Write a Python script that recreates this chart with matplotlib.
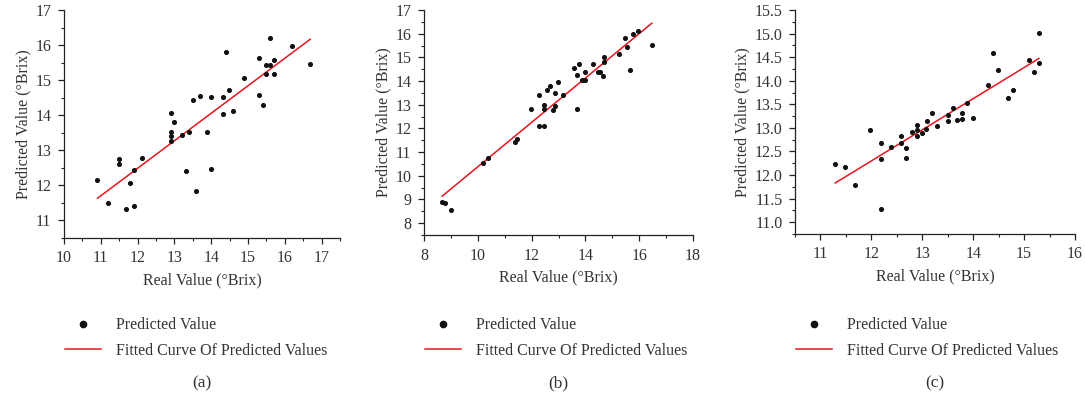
import numpy as np
import matplotlib
matplotlib.use("Agg")
import matplotlib.pyplot as plt
from matplotlib.ticker import MultipleLocator, FormatStrFormatter
from matplotlib.lines import Line2D

plt.rcParams['font.family'] = ['Liberation Serif', 'DejaVu Serif']

# panel (a)
real_a = [10.91, 11.19, 11.49, 11.49, 11.68, 11.79, 11.90, 11.89, 12.12, 12.90,
          12.90, 12.90, 12.90, 13.00, 13.21, 13.32, 13.39, 13.50, 13.60, 13.70,
          13.89, 13.99, 13.99, 14.31, 14.31, 14.40, 14.49, 14.59, 14.90, 15.29,
          15.31, 15.42, 15.49, 15.49, 15.60, 15.59, 15.70, 15.70, 16.19, 16.69]
pred_a = [12.14, 11.49, 12.75, 12.61, 11.33, 12.06, 12.43, 11.42, 12.77, 14.05,
          13.52, 13.40, 13.26, 13.81, 13.45, 12.41, 13.52, 14.44, 11.83, 14.54,
          13.52, 14.52, 12.47, 14.53, 14.04, 15.81, 14.71, 14.11, 15.07, 15.64,
          14.58, 14.30, 15.43, 15.18, 15.43, 16.19, 15.57, 15.18, 15.98, 15.45]
fit_a = (0.784, 3.08)

# panel (b)
real_b = [8.68, 8.79, 8.99, 10.18, 10.39, 11.37, 11.47, 11.97, 12.27, 12.27,
          12.47, 12.47, 12.47, 12.58, 12.68, 12.78, 12.86, 12.86, 12.98, 13.17,
          13.58, 13.68, 13.68, 13.77, 13.87, 13.97, 13.97, 14.27, 14.46, 14.56,
          14.66, 14.68, 14.68, 15.26, 15.46, 15.56, 15.66, 15.76, 15.96, 16.47]
pred_b = [8.91, 8.86, 8.55, 10.53, 10.77, 11.43, 11.54, 12.84, 13.40, 12.09,
          12.09, 13.01, 12.84, 13.62, 13.78, 12.77, 13.48, 12.95, 13.95, 13.43,
          14.54, 12.84, 14.27, 14.71, 14.05, 14.37, 14.05, 14.71, 14.37, 14.37,
          14.22, 15.02, 14.79, 15.13, 15.83, 15.44, 14.47, 16.00, 16.10, 15.54]
fit_b = (0.937, 1.01)

# panel (c)
real_c = [11.29, 11.49, 11.68, 11.98, 12.19, 12.19, 12.19, 12.38, 12.59, 12.59,
          12.69, 12.69, 12.80, 12.89, 12.89, 12.89, 12.99, 13.08, 13.09, 13.20,
          13.29, 13.50, 13.50, 13.60, 13.69, 13.79, 13.79, 13.88, 14.00, 14.29,
          14.39, 14.48, 14.69, 14.78, 15.09, 15.19, 15.29, 15.29]
pred_c = [12.23, 12.17, 11.78, 12.95, 12.67, 12.33, 11.29, 12.60, 12.83, 12.69,
          12.57, 12.37, 12.92, 13.06, 12.95, 12.83, 12.90, 12.98, 13.14, 13.31,
          13.04, 13.28, 13.14, 13.42, 13.16, 13.31, 13.18, 13.52, 13.22, 13.91,
          14.58, 14.23, 13.64, 13.81, 14.43, 14.19, 14.37, 15.02]
fit_c = (0.66, 4.38)

panels = [
    (real_a, pred_a, fit_a, (10, 17.5), (10.5, 17), 1, 1, "(a)"),
    (real_b, pred_b, fit_b, (8, 18), (7.5, 17), 2, 1, "(b)"),
    (real_c, pred_c, fit_c, (10.5, 16), (10.75, 15.5), 1, 0.5, "(c)"),
]
# axes rects in pixels: left, right, top, bottom
rects = [(64, 340, 10, 238), (424, 693, 10, 235), (795, 1075, 10, 234)]
W, H = 1085, 396
txt = '#333333'

fig = plt.figure(figsize=(W / 100, H / 100), dpi=100)

for (x, y, fit, xl, yl, xmaj, ymaj, lab), (l, r, t, b) in zip(panels, rects):
    ax = fig.add_axes([l / W, (H - b) / H, (r - l) / W, (b - t) / H])
    ax.scatter(x, y, s=7, color='#111111', zorder=3)
    xs = np.array([min(x), max(x)])
    ax.plot(xs, fit[0] * xs + fit[1], color='#e8141c', lw=1.1)
    ax.set_xlim(*xl)
    ax.set_ylim(*yl)
    ax.xaxis.set_major_locator(MultipleLocator(xmaj))
    ax.xaxis.set_minor_locator(MultipleLocator(xmaj / 2))
    ax.yaxis.set_major_locator(MultipleLocator(ymaj))
    ax.yaxis.set_minor_locator(MultipleLocator(ymaj / 2))
    if lab == "(c)":
        ax.yaxis.set_major_formatter(FormatStrFormatter('%.1f'))
    ax.spines['top'].set_visible(False)
    ax.spines['right'].set_visible(False)
    for s in ['left', 'bottom']:
        ax.spines[s].set_color('#222222')
        ax.spines[s].set_linewidth(0.9)
    ax.tick_params(which='major', length=4, width=0.9, colors='#222222',
                   labelcolor=txt, labelsize=11.5, pad=5)
    ax.tick_params(which='minor', length=2.5, width=0.8, colors='#222222')
    ax.set_xlabel("Real Value (°Brix)", fontsize=11.5, color=txt, labelpad=4)
    ax.set_ylabel("Predicted Value (°Brix)", fontsize=11.5, color=txt, labelpad=3)

    # legend block below each panel
    handles = [Line2D([], [], ls='none', marker='o', ms=4.5, color='#111111'),
               Line2D([], [], color='#e8141c', lw=1.1)]
    fig.legend(handles, ["Predicted Value", "Fitted Curve Of Predicted Values"],
               loc='upper left', bbox_to_anchor=((l - 13) / W, (H - 303) / H),
               frameon=False, fontsize=11.5, labelcolor=txt,
               handlelength=2.2, handletextpad=0.95, labelspacing=0.6)
    fig.text((l + r) / 2 / W, (H - 383) / H, lab, ha='center', va='center',
             fontsize=12.5, color=txt)

fig.savefig("out.png", dpi=100)
